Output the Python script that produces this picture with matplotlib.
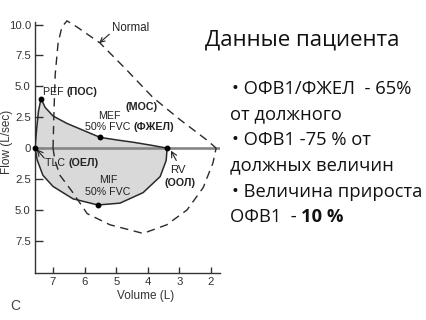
import matplotlib
matplotlib.use("Agg")
import matplotlib.pyplot as plt
from matplotlib.ticker import FixedLocator, FixedFormatter

# Patient expiratory limb (volume L, flow L/s)
pat_exp_vol = [7.57, 7.52, 7.46, 7.38, 7.25, 7.0, 6.56, 6.05, 5.51, 4.95, 4.47, 3.93, 3.6, 3.39]
pat_exp_flow = [0.0, 1.5, 3.0, 4.0, 3.3, 2.6, 2.0, 1.45, 0.87, 0.65, 0.48, 0.25, 0.1, 0.0]

# Patient inspiratory limb
pat_ins_vol = [7.57, 7.5, 7.32, 7.0, 6.37, 5.58, 4.88, 4.15, 3.61, 3.42, 3.39]
pat_ins_flow = [0.0, -0.97, -2.2, -3.1, -4.1, -4.6, -4.45, -3.6, -2.3, -1.0, 0.0]

# Predicted (normal) loop
norm_exp_vol = [7.0, 6.97, 6.93, 6.84, 6.72, 6.56, 6.24, 5.51, 4.66, 3.84, 2.98, 2.13, 1.84]
norm_exp_flow = [0.0, 3.0, 6.0, 8.5, 9.8, 10.3, 9.8, 8.5, 6.3, 4.1, 2.3, 0.65, 0.0]
norm_ins_vol = [7.0, 6.94, 6.78, 6.4, 5.92, 5.2, 4.15, 3.4, 2.76, 2.25, 1.94, 1.84]
norm_ins_flow = [0.0, -1.0, -2.2, -3.5, -5.3, -6.2, -6.9, -6.2, -5.0, -3.2, -1.2, 0.0]

# Marked points
tlc = (7.57, 0.0)
pef = (7.38, 4.0)
mef = (5.51, 0.87)
mif = (5.58, -4.6)
rv = (3.39, 0.0)

x_ticks = [7, 6, 5, 4, 3, 2]
y_ticks = [10, 7.5, 5, 2.5, 0, -2.5, -5, -7.5]
y_tick_labels = ["10.0", "7.5", "5.0", "2.5", "0", "2.5", "5.0", "7.5"]

title = "Данные пациента"
info_lines = [
    "• ОФВ1/ФЖЕЛ  - 65%",
    "от должного",
    "• ОФВ1 -75 % от",
    "должных величин",
    "• Величина прироста",
]
last_line = ["ОФВ1  - ", "10 %"]

plt.rcParams["font.family"] = ["Liberation Sans", "DejaVu Sans"]

W, H = 427, 320
fig = plt.figure(figsize=(W / 100, H / 100), dpi=100)
ax = fig.add_axes([0.082, 0.147, 0.433, 0.784])

line_c = "#2a2a2a"
ax.fill(pat_exp_vol + pat_ins_vol[::-1], pat_exp_flow + pat_ins_flow[::-1],
        color="#d9d9d9", lw=0, zorder=1)
ax.axhline(0, color="#858585", lw=1.9, zorder=2)
ax.plot(pat_exp_vol, pat_exp_flow, color=line_c, lw=1.1, zorder=3)
ax.plot(pat_ins_vol, pat_ins_flow, color=line_c, lw=1.1, zorder=3)
dash = (0, (6, 4))
ax.plot(norm_exp_vol, norm_exp_flow, color=line_c, lw=1.0, ls=dash, zorder=3, clip_on=False)
ax.plot(norm_ins_vol, norm_ins_flow, color=line_c, lw=1.0, ls=dash, zorder=3, clip_on=False)

for p in (tlc, pef, mef, mif, rv):
    ax.plot(*p, "o", color="black", ms=3.2, zorder=4, clip_on=False)

ax.set_xlim(7.57, 1.72)
ax.set_ylim(-10.1, 10.2)
ax.xaxis.set_major_locator(FixedLocator(x_ticks))
ax.yaxis.set_major_locator(FixedLocator(y_ticks))
ax.yaxis.set_major_formatter(FixedFormatter(y_tick_labels))
ax.tick_params(axis="both", direction="in", labelsize=8.2, colors="#333333", width=1.0)
ax.tick_params(axis="y", length=6, pad=3)
ax.tick_params(axis="x", length=4, pad=3)
for s in ("top", "right"):
    ax.spines[s].set_visible(False)
for s in ("left", "bottom"):
    ax.spines[s].set_color("#333333")
    ax.spines[s].set_linewidth(1.0)
ax.set_xlabel("Volume (L)", fontsize=8.5, color="#333333")
ax.set_ylabel("Flow (L/sec)", fontsize=8.5, color="#333333")
ax.xaxis.set_label_coords(146 / W, 1 - 296 / H, transform=fig.transFigure)
ax.yaxis.set_label_coords(7 / W, 1 - 142 / H, transform=fig.transFigure)
ax.xaxis.label.set_va("center")
ax.yaxis.label.set_va("center")

fs = 7.7
tc = "#222222"


def runs(x, y, parts, **kw):
    """Draw consecutive text pieces (text, weight) starting at data point x, y."""
    fig.canvas.draw()
    r = fig.canvas.get_renderer()
    px, py = ax.transData.transform((x, y))
    for s, w in parts:
        t = fig.text(px / W, py / H, s, fontsize=fs, color=tc, fontweight=w,
                     ha="left", **kw)
        px = t.get_window_extent(renderer=r).x1


arrow = dict(arrowstyle="->", color=tc, lw=0.8, shrinkA=0, shrinkB=0)
ax.annotate("Normal", xy=(5.54, 8.5), xytext=(5.13, 9.7), fontsize=8.3, color=tc,
            ha="left", va="center",
            arrowprops=dict(arrow, relpos=(0.0, 0.2)))
runs(7.32, 4.3, [("PEF ", "normal"), ("(ПОС)", "bold")], va="baseline")
runs(4.72, 3.08, [("(МОС)", "bold")], va="baseline")
runs(5.58, 2.35, [("MEF", "normal")], va="baseline")
runs(5.99, 1.46, [("50% FVC ", "normal"), ("(ФЖЕЛ)", "bold")], va="baseline")
ax.annotate("", xy=(7.52, -0.1), xytext=(7.28, -0.8), arrowprops=arrow)
runs(7.25, -1.21, [("TLC ", "normal"), ("(ОЕЛ)", "bold")], va="center")
ax.text(5.26, -2.6, "MIF", fontsize=fs, color=tc, ha="center", va="center")
ax.text(5.26, -3.56, "50% FVC", fontsize=fs, color=tc, ha="center", va="center")
ax.annotate("", xy=(3.27, -0.2), xytext=(3.1, -1.0), arrowprops=arrow)
ax.text(3.06, -1.78, "RV", fontsize=8.2, color=tc, ha="center", va="center")
ax.text(2.98, -2.83, "(ООЛ)", fontsize=fs, color=tc, ha="center", va="center",
        fontweight="bold")

fig.text(10 / W, 1 - 306 / H, "C", fontsize=10, color="#444444", ha="left", va="center")

# Patient summary on the right
rfont = ["Open Sans", "DejaVu Sans"]
fsz = 13.2
fig.text(205 / W, 1 - 40 / H, title, fontsize=16,
         family=rfont, color="#111111", ha="left", va="center")
ys = [89, 114, 140, 165, 192]
xs = [232, 230, 232, 230, 232]
for s, x, y in zip(info_lines, xs, ys):
    fig.text(x / W, 1 - y / H, s, fontsize=fsz, family=rfont,
             color="#111111", ha="left", va="center")
fig.canvas.draw()
t = fig.text(230 / W, 1 - 217 / H, last_line[0], fontsize=fsz, family=rfont,
             color="#111111", ha="left", va="center")
bb = t.get_window_extent(renderer=fig.canvas.get_renderer())
fig.text(bb.x1 / W, 1 - 217 / H, last_line[1], fontsize=fsz, family=rfont,
         fontweight="bold", color="#111111", ha="left", va="center")

fig.savefig("out.png", dpi=100)
